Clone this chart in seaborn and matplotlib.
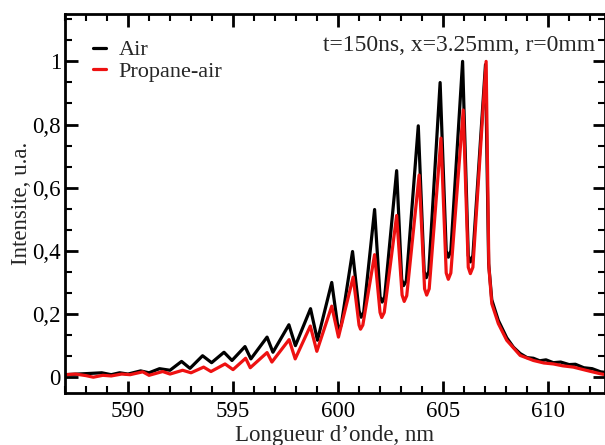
import numpy as np
import pandas as pd
import matplotlib
matplotlib.use("Agg")
import matplotlib.pyplot as plt
from matplotlib.ticker import MultipleLocator, FuncFormatter
import seaborn as sns

# spectra (peaks / troughs), wavelength in nm
air_nm = [587.0, 587.6, 588.2, 588.75, 589.2, 589.6, 590.0, 590.6, 591.0, 591.5,
          592.0, 592.55, 592.95, 593.55, 593.98, 594.57, 594.95, 595.57, 595.85,
          596.62, 596.9, 597.66, 597.97, 598.69, 599.02, 599.7, 599.98, 600.05,
          600.15, 600.69, 601.0, 601.1, 601.22, 601.74, 602.0, 602.1, 602.22,
          602.79, 603.03, 603.12, 603.25, 603.82, 604.1, 604.2, 604.32, 604.86,
          605.15, 605.25, 605.37, 605.93, 606.2, 606.3, 606.42, 607.02, 607.17,
          607.32, 607.63, 608.03, 608.35, 608.67, 609.0, 609.3, 609.6, 609.9,
          610.25, 610.6, 611.0, 611.3, 611.7, 612.1, 612.5, 612.9]
air_int = [0.008, 0.010, 0.012, 0.014, 0.008, 0.014, 0.010, 0.020, 0.014, 0.027,
           0.022, 0.050, 0.028, 0.068, 0.046, 0.079, 0.053, 0.097, 0.058,
           0.127, 0.079, 0.166, 0.100, 0.217, 0.117, 0.300, 0.165, 0.152,
           0.165, 0.398, 0.210, 0.190, 0.205, 0.531, 0.255, 0.238, 0.255,
           0.654, 0.310, 0.290, 0.305, 0.796, 0.335, 0.315, 0.335, 0.933,
           0.400, 0.380, 0.400, 1.000, 0.385, 0.365, 0.385, 0.990, 0.360,
           0.245, 0.180, 0.125, 0.095, 0.075, 0.062, 0.060, 0.052, 0.055,
           0.046, 0.048, 0.040, 0.041, 0.030, 0.027, 0.017, 0.014]

propane_nm = [587.0, 587.5, 588.0, 588.35, 588.8, 589.2, 589.7, 590.1, 590.7, 591.0,
              591.65, 592.0, 592.6, 593.0, 593.6, 593.95, 594.62, 595.0, 595.6,
              595.82, 596.62, 596.85, 597.67, 597.96, 598.68, 598.99, 599.7,
              600.02, 600.72, 601.0, 601.07, 601.18, 601.74, 602.0, 602.08,
              602.2, 602.79, 603.05, 603.15, 603.27, 603.86, 604.12, 604.22,
              604.34, 604.9, 605.15, 605.25, 605.37, 605.96, 606.2, 606.3,
              606.42, 607.05, 607.18, 607.32, 607.63, 608.03, 608.67, 609.3,
              609.8, 610.25, 610.7, 611.2, 611.8, 612.48, 612.9]
propane_int = [0.008, 0.010, 0.005, 0.000, 0.006, 0.004, 0.010, 0.008, 0.017, 0.006,
               0.018, 0.010, 0.022, 0.014, 0.032, 0.018, 0.042, 0.024, 0.060,
               0.030, 0.078, 0.048, 0.119, 0.058, 0.162, 0.082, 0.225,
               0.127, 0.317, 0.165, 0.152, 0.165, 0.388, 0.205, 0.189,
               0.205, 0.512, 0.260, 0.240, 0.258, 0.640, 0.280, 0.260,
               0.280, 0.757, 0.330, 0.310, 0.330, 0.846, 0.348, 0.328,
               0.348, 1.000, 0.350, 0.233, 0.170, 0.117, 0.069, 0.053,
               0.045, 0.042, 0.036, 0.032, 0.022, 0.011, 0.006]

series_names = ["Air", "Propane-air"]
y_ticks = [0, 0.2, 0.4, 0.6, 0.8, 1.0]
x_ticks = [590, 595, 600, 605, 610]

df = pd.concat([
    pd.DataFrame({"nm": air_nm, "intensity": air_int, "gas": series_names[0]}),
    pd.DataFrame({"nm": propane_nm, "intensity": propane_int, "gas": series_names[1]}),
])

sns.set_theme(style="ticks")
plt.rcParams["font.family"] = ["Liberation Serif", "DejaVu Serif"]

fig = plt.figure(figsize=(6.05, 4.45), dpi=100)
ax = fig.add_axes([65 / 605, 52 / 445, 540 / 605, 379 / 445])

sns.lineplot(data=df, x="nm", y="intensity", hue="gas", hue_order=series_names,
             palette={"Air": "black", "Propane-air": "#ee1111"},
             estimator=None, sort=True, linewidth=2.3, ax=ax)

ax.set_xlim(587.0, 612.71)
ax.set_ylim(-0.05, 1.15)
ax.set_xticks(x_ticks)
ax.set_yticks(y_ticks)
ax.xaxis.set_minor_locator(MultipleLocator(1))
ax.yaxis.set_minor_locator(MultipleLocator(0.2 / 3))
ax.yaxis.set_major_formatter(FuncFormatter(lambda v, p: f"{v:g}".replace(".", ",")))

ax.tick_params(which="both", direction="in", top=True, right=True,
               labelsize=16.5, colors="black")
ax.tick_params(axis="x", pad=6)
ax.tick_params(axis="y", pad=3)
ax.tick_params(which="major", length=9, width=2)
ax.tick_params(which="minor", length=5, width=1.5)
for s in ax.spines.values():
    s.set_linewidth(2)
    s.set_color("black")

ax.set_xlabel("Longueur d\u2019onde, nm", fontsize=16.5, labelpad=2)
ax.set_ylabel("Intensite, u.a.", fontsize=16.5, labelpad=0)

ax.legend(loc="upper left", bbox_to_anchor=(0.035, 0.955), frameon=False,
          fontsize=16, handlelength=0.6, handletextpad=0.55, labelspacing=0.05,
          borderaxespad=0)
ax.text(0.981, 0.918, "t=150ns, x=3.25mm, r=0mm", transform=ax.transAxes,
        ha="right", va="center", fontsize=17)

fig.savefig("out.png", dpi=100)
